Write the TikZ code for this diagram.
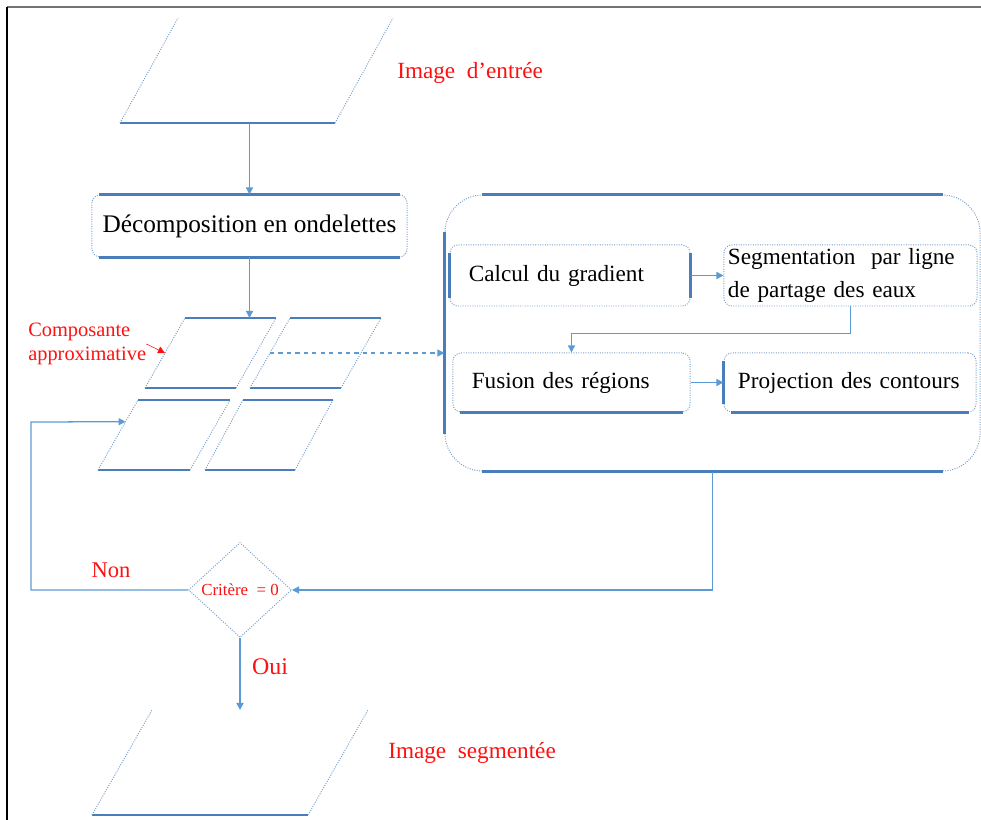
\documentclass[tikz,border=0pt]{standalone}
\usepackage{fontspec}
\setmainfont{Liberation Serif}
\usetikzlibrary{arrows.meta,shapes.geometric,calc}
\definecolor{flowblue}{HTML}{4A7EBB}
\definecolor{linkblue}{HTML}{5B9BD5}
\definecolor{labelred}{HTML}{FF1010}
\tikzset{
  proc_box/.style={draw=flowblue!75,densely dotted,line width=0.7pt,rounded corners=0.2cm,
    minimum height=1.5cm,inner xsep=0.47cm,inner ysep=0pt,align=left,
    font=\fontsize{16.5}{23}\selectfont},
  big_box/.style={draw=flowblue!75,densely dotted,line width=0.7pt,rounded corners=0.95cm,
    minimum width=13.375cm,minimum height=6.9cm},
  dec_diam/.style={diamond,draw=flowblue!75,densely dotted,line width=0.7pt,
    minimum width=2.575cm,minimum height=2.375cm,inner sep=0pt,aspect=1.08,
    font=\fontsize{12}{14}\selectfont\color{labelred}},
  lbl_red/.style={inner sep=0pt,text=labelred,align=left},
  edge_solid/.style={draw=flowblue,line width=1.6pt},
  side_faint/.style={draw=flowblue!75,densely dotted,line width=0.7pt},
  arr/.style={-{Triangle[length=5pt,width=5pt]},draw=linkblue,line width=0.9pt},
  arr_red/.style={-{Triangle[length=5pt,width=5pt]},draw=labelred,line width=0.4pt},
  pics/para/.style n args={4}{code={
    \draw[edge_solid] (0,0) -- (#1,0);
    \draw[side_faint] (0,0) -- (#3,-#2);
    \draw[side_faint] (#1,0) -- ({#1+#3},-#2);
    \draw[#4] (#3,-#2) -- ({#1+#3},-#2);
    \coordinate (-bl) at (0,0);
    \coordinate (-tl) at (#3,-#2);
    \coordinate (-l) at ({#3/2},{-#2/2});
  }},
}
\begin{document}
\begin{tikzpicture}[x=0.025cm,y=-0.025cm]
  \useasboundingbox (0,0) rectangle (981,820);
  \draw[black!55,line width=1pt] (7,7) -- (981,7);
  \draw[black,line width=0.8pt] (7,7) -- (7,820);
  % input and output images
  \pic (pin) at (120,123) {para={215}{105}{58}{draw=none}};
  \pic (pout) at (92,815) {para={216}{105}{60}{draw=none}};
  \node[lbl_red,anchor=west,font=\fontsize{16.5}{19}\selectfont] (lin) at (397,73) {Image\ \ d'entrée};
  \node[lbl_red,anchor=west,font=\fontsize{16.5}{19}\selectfont] (lout) at (388,753) {Image\ \ segmentée};
  % wavelet decomposition
  \node[proc_box,minimum width=7.875cm,minimum height=1.55cm,inner xsep=0.1cm,align=center,
    font=\fontsize{18}{21}\selectfont] (deco) at (249.5,226) {Décomposition en ondelettes};
  % sub-bands
  \pic (ptl) at (145,388) {para={91}{70}{40}{edge_solid}};
  \pic (ptr) at (250,388) {para={91}{70}{40}{edge_solid}};
  \pic (pbl) at (98,470) {para={92}{70}{40}{edge_solid}};
  \pic (pbr) at (205,470) {para={90}{70}{38}{edge_solid}};
  \node[lbl_red,anchor=west,font=\fontsize{14.5}{17.5}\selectfont] (lcomp) at (28,344) {Composante\\approximative};
  % segmentation block
  \node[big_box] (big) at (712.5,333) {};
  \node[proc_box,text width=5.06cm,minimum height=1.525cm] (calc) at (570,275.5) {Calcul du gradient};
  \node[proc_box,text width=6.125cm,inner xsep=0.1cm,minimum height=1.525cm] (seg) at (850.5,275.5) {Segmentation\ \ par ligne\\de partage des eaux};
  \node[proc_box,text width=4.985cm,minimum height=1.475cm] (fus) at (571.5,382.5) {Fusion des régions};
  \node[proc_box,text width=5.6cm,inner xsep=0.35cm,minimum height=1.475cm] (proj) at (850,382.5) {Projection des contours};
  % stopping test
  \node[dec_diam] (crit) at (240,590) {Critère\ \ = 0};
  \node[lbl_red,font=\fontsize{16}{19}\selectfont] (lnon) at (111,570) {Non};
  \node[lbl_red,font=\fontsize{17}{20}\selectfont] (loui) at (270,667) {Oui};
  \coordinate (back) at (31,422);
  % solid edges
  \draw[edge_solid] ([xshift=2mm]deco.north west) -- ([xshift=-2mm]deco.north east);
  \draw[edge_solid] ([xshift=2mm]deco.south west) -- ([xshift=-2mm]deco.south east);
  \draw[edge_solid] ([xshift=9.5mm]big.north west) -- ([xshift=-9.5mm]big.north east);
  \draw[edge_solid] ([xshift=9.5mm]big.south west) -- ([xshift=-9.5mm]big.south east);
  \draw[edge_solid] ([yshift=-9.5mm]big.north west) -- ([yshift=9.5mm]big.south west);
  \draw[edge_solid] ([yshift=-2mm]calc.north west) -- ([yshift=2mm]calc.south west);
  \draw[edge_solid] ([yshift=-2mm]calc.north east) -- ([yshift=2mm]calc.south east);
  \draw[edge_solid] ([xshift=2mm]fus.south west) -- ([xshift=-2mm]fus.south east);
  \draw[edge_solid] ([yshift=-2mm]proj.north west) -- ([yshift=2mm]proj.south west);
  \draw[edge_solid] ([xshift=2mm]proj.south west) -- ([xshift=-2mm]proj.south east);
  % connectors
  \draw[arr] (deco.north |- pin-bl) -- (deco.north);
  \draw[arr] (deco.south) -- (deco.south |- ptl-tl);
  \draw[arr_red] (lcomp.east) -- (ptl-l);
  \draw[arr,dashed] (ptr-l) -- (ptr-l -| big.west);
  \draw[arr] (calc.east) -- (seg.west);
  \draw[arr] (seg.south) -- ++(0,27) -| (fus.north);
  \draw[arr] (fus.east) -- (proj.west);
  \draw[arr] (big.south) |- (crit.east);
  \draw[arr] (crit.west) -| (back) -- ($(pbl-bl)!0.69!(pbl-tl)$);
  \draw[arr] (crit.south) -- (crit.south |- pout-tl);
\end{tikzpicture}
\end{document}
